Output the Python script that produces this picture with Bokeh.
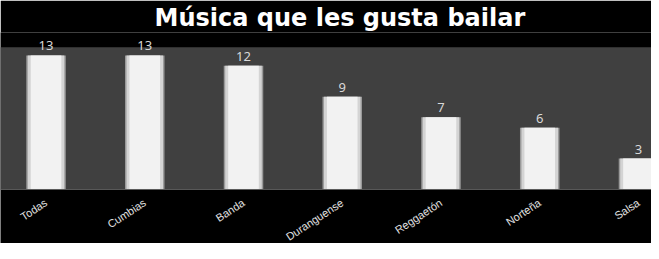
from bokeh.plotting import figure
from bokeh.models import Range1d, ColumnDataSource, BoxAnnotation, Span
from bokeh.core.properties import value
from bokeh.embed import file_html
from bokeh.resources import INLINE

categories = ["Todas", "Cumbias", "Banda", "Duranguense", "Reggaetón", "Norteña", "Salsa"]
values = [13, 13, 12, 9, 7, 6, 3]
positions = list(range(len(categories)))
y_max = 13.8

src = ColumnDataSource(dict(x=positions, top=values, label=[str(v) for v in values],
                            cat=categories, zero=[0] * len(values)))

p = figure(width=651, height=243, output_backend="svg", toolbar_location=None,
           x_range=Range1d(-0.461, 6.132), y_range=Range1d(-5.24, 15.23),
           min_border_top=0, min_border_bottom=0, min_border_left=0, min_border_right=0,
           background_fill_color="#000000", border_fill_color="#000000", outline_line_color=None)

p.title.text = "Música que les gusta bailar"
p.title.text_color = "#ffffff"
p.title.text_font = "DejaVu Sans"
p.title.text_font_style = "bold"
p.title.text_font_size = "24px"
p.title.align = "left"
p.title.offset = 154
p.title.standoff = 2

p.xgrid.visible = False
p.ygrid.visible = False
p.xaxis.visible = False
p.yaxis.visible = False

# plot area
p.add_layout(BoxAnnotation(bottom=0, top=y_max, fill_color="#404040", fill_alpha=1,
                           line_color=None, level="underlay"))
p.add_layout(Span(location=0, dimension="width", line_color="#5a5a5a", line_width=1))

# bars with a light bevel
p.vbar(x="x", top="top", width=0.40, bottom=0, source=src, fill_color="#9a9a9a", line_color=None)
p.vbar(x="x", top="top", width=0.37, bottom=0, source=src, fill_color="#d4d4d4", line_color=None)
p.vbar(x="x", top="top", width=0.31, bottom=0, source=src, fill_color="#f2f2f2", line_color=None)

# value labels
p.text(x="x", y="top", text="label", source=src, text_align="center",
       text_baseline="bottom", y_offset=-5, text_color="#d9d9d9",
       text_font_size="13px", text_font=value("Noto Sans"))

# category labels
p.text(x="x", y="zero", text="cat", source=src, text_align="right",
       text_baseline="middle", angle=0.58, y_offset=12, text_color="#e0e0e0",
       text_font_size="11px", text_font=value("Liberation Sans"))

open("out.html", "w").write(file_html(p, INLINE))
